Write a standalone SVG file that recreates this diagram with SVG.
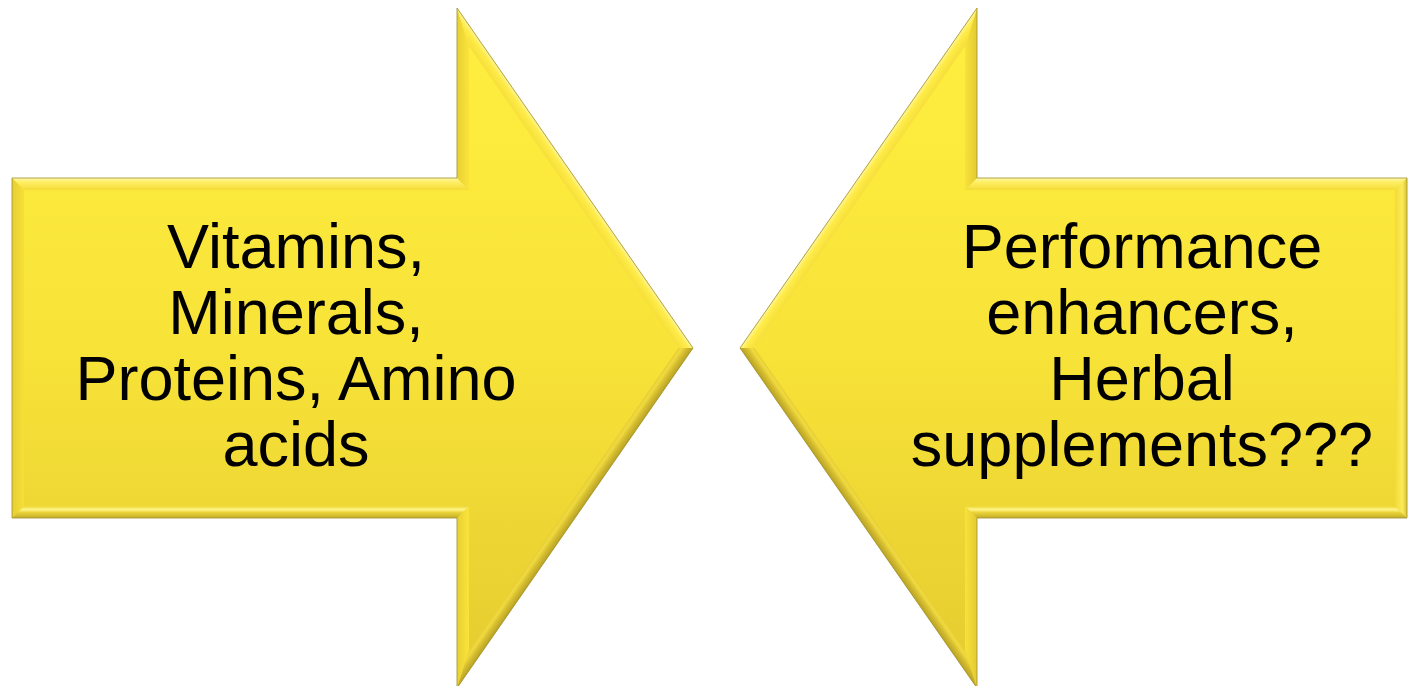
<svg xmlns="http://www.w3.org/2000/svg" width="1409" height="686" viewBox="0 0 1409 686">
  <defs>
    <linearGradient id="face" gradientUnits="userSpaceOnUse" x1="0" y1="8" x2="0" y2="688">
      <stop offset="0" stop-color="#FFEF40"/>
      <stop offset="0.5" stop-color="#F8E338"/>
      <stop offset="1" stop-color="#E4CB30"/>
    </linearGradient>
    <linearGradient id="topF" gradientUnits="userSpaceOnUse" x1="0" y1="178" x2="0" y2="190">
      <stop offset="0" stop-color="#FFF8B0"/>
      <stop offset="0.3" stop-color="#FFF06A"/>
      <stop offset="1" stop-color="#F4DC36"/>
    </linearGradient>
    <linearGradient id="botF" gradientUnits="userSpaceOnUse" x1="0" y1="506" x2="0" y2="518">
      <stop offset="0" stop-color="#EDD536"/>
      <stop offset="0.3" stop-color="#FFF585"/>
      <stop offset="0.55" stop-color="#EAD238"/>
      <stop offset="1" stop-color="#C4AD2A"/>
    </linearGradient>
    <linearGradient id="leftF" gradientUnits="userSpaceOnUse" x1="12" y1="0" x2="24" y2="0">
      <stop offset="0" stop-color="#E6CE32"/>
      <stop offset="1" stop-color="#F6E038"/>
    </linearGradient>
    <linearGradient id="rightF" gradientUnits="userSpaceOnUse" x1="1407" y1="0" x2="1395" y2="0">
      <stop offset="0" stop-color="#DCC430"/>
      <stop offset="0.4" stop-color="#FCEB5A"/>
      <stop offset="1" stop-color="#F2DA36"/>
    </linearGradient>
    <linearGradient id="lBaseF" gradientUnits="userSpaceOnUse" x1="457" y1="0" x2="469" y2="0">
      <stop offset="0" stop-color="#E8D034"/>
      <stop offset="1" stop-color="#FAE43A"/>
    </linearGradient>
    <linearGradient id="rBaseF" gradientUnits="userSpaceOnUse" x1="977" y1="0" x2="965" y2="0">
      <stop offset="0" stop-color="#E2CA32"/>
      <stop offset="1" stop-color="#F8E23A"/>
    </linearGradient>
    <linearGradient id="lUpF" gradientUnits="userSpaceOnUse" x1="575" y1="178" x2="565.14" y2="184.84">
      <stop offset="0" stop-color="#FFF49A"/>
      <stop offset="0.35" stop-color="#FFEC48"/>
      <stop offset="1" stop-color="#F6DF3A"/>
    </linearGradient>
    <linearGradient id="lLoF" gradientUnits="userSpaceOnUse" x1="575" y1="518" x2="565.14" y2="511.16">
      <stop offset="0" stop-color="#B8A226"/>
      <stop offset="0.45" stop-color="#D8C030"/>
      <stop offset="0.75" stop-color="#F0DA40"/>
      <stop offset="1" stop-color="#E6CE34"/>
    </linearGradient>
    <linearGradient id="rUpF" gradientUnits="userSpaceOnUse" x1="858.5" y1="178" x2="868.35" y2="184.86">
      <stop offset="0" stop-color="#FFF49A"/>
      <stop offset="0.35" stop-color="#FFEC48"/>
      <stop offset="1" stop-color="#F6DF3A"/>
    </linearGradient>
    <linearGradient id="rLoF" gradientUnits="userSpaceOnUse" x1="858.5" y1="518" x2="868.35" y2="511.14">
      <stop offset="0" stop-color="#B8A226"/>
      <stop offset="0.45" stop-color="#D8C030"/>
      <stop offset="0.75" stop-color="#F0DA40"/>
      <stop offset="1" stop-color="#E6CE34"/>
    </linearGradient>
  </defs>
  <style>
    .face { fill: url(#face); }
    .outline { fill: none; stroke: #A39531; stroke-width: 1; stroke-opacity: 0.85; stroke-linejoin: miter; }
    .lbl { font-family: "Liberation Sans", Arial, sans-serif; font-size: 63px; fill: #000000; text-anchor: middle; }
  </style>
  <rect width="1409" height="686" fill="#FFFFFF"/>

  <g id="arrow-left">
    <polygon class="face" points="12,178 457,178 457,8 693,348 457,688 457,518 12,518"/>
    <polygon fill="url(#topF)" points="12,178 457,178 469,190 24,190"/>
    <polygon fill="url(#lBaseF)" points="457,178 457,8 469,46.3 469,190"/>
    <polygon fill="url(#lUpF)" points="457,8 693,348 678.4,348 469,46.3"/>
    <polygon fill="url(#lLoF)" points="693,348 457,688 469,649.7 678.4,348"/>
    <polygon fill="url(#lBaseF)" points="457,688 457,518 469,506 469,649.7"/>
    <polygon fill="url(#botF)" points="457,518 12,518 24,506 469,506"/>
    <polygon fill="url(#leftF)" points="12,518 12,178 24,190 24,506"/>
    <polygon class="outline" points="12,178 457,178 457,8 693,348 457,688 457,518 12,518"/>
    <text class="lbl" x="296" y="268">Vitamins,</text>
    <text class="lbl" x="296" y="334">Minerals,</text>
    <text class="lbl" x="296" y="400">Proteins, Amino</text>
    <text class="lbl" x="296" y="466">acids</text>
  </g>

  <g id="arrow-right">
    <polygon class="face" points="1407,178 977,178 977,8 740,348 977,688 977,518 1407,518"/>
    <polygon fill="url(#topF)" points="1407,178 977,178 965,190 1395,190"/>
    <polygon fill="url(#rBaseF)" points="977,178 977,8 965,46.2 965,190"/>
    <polygon fill="url(#rUpF)" points="977,8 740,348 754.6,348 965,46.2"/>
    <polygon fill="url(#rLoF)" points="740,348 977,688 965,649.8 754.6,348"/>
    <polygon fill="url(#rBaseF)" points="977,688 977,518 965,506 965,649.8"/>
    <polygon fill="url(#botF)" points="977,518 1407,518 1395,506 965,506"/>
    <polygon fill="url(#rightF)" points="1407,518 1407,178 1395,190 1395,506"/>
    <polygon class="outline" points="1407,178 977,178 977,8 740,348 977,688 977,518 1407,518"/>
    <text class="lbl" x="1142" y="268">Performance</text>
    <text class="lbl" x="1142" y="334">enhancers,</text>
    <text class="lbl" x="1142" y="400">Herbal</text>
    <text class="lbl" x="1142" y="466">supplements???</text>
  </g>
</svg>
